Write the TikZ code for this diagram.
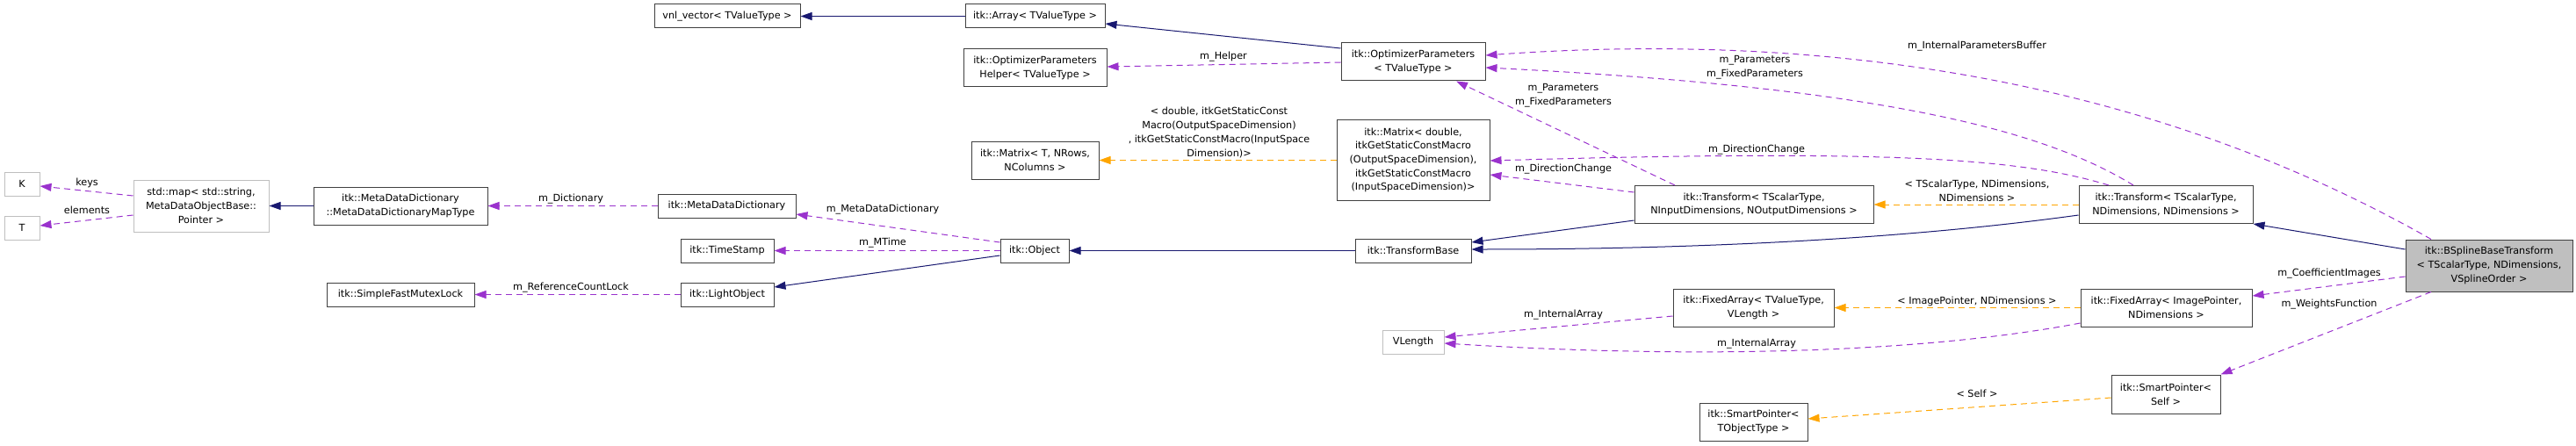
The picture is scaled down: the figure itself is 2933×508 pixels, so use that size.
\documentclass[tikz,border=0pt]{standalone}
\usepackage{fontspec}
\setmainfont{DejaVu Sans}
\usetikzlibrary{arrows.meta}
\definecolor{inhnavy}{HTML}{191970}
\definecolor{usepurple}{HTML}{9A32CD}
\definecolor{tplorange}{HTML}{FFA500}
\definecolor{boxgray}{HTML}{BFBFBF}
\begin{document}
\begin{tikzpicture}[x=1pt,y=-1pt,font=\fontsize{11.2}{15.7}\selectfont,
  cls/.style n args={2}{draw=black!75,line width=1pt,fill=white,inner sep=0pt,align=center,minimum width=#1pt,minimum height=#2pt},
  ext/.style n args={2}{cls={#1}{#2},draw=boxgray},
  inh/.style={inhnavy,line width=1pt,-{Triangle[length=13pt,width=9pt]}},
  use/.style={usepurple,line width=1pt,dash pattern=on 7pt off 5pt,-{Triangle[length=13pt,width=9pt]}},
  tpl/.style={tplorange,line width=1pt,dash pattern=on 7pt off 5pt,-{Triangle[length=13pt,width=9pt]}},
  lbl/.style={align=center,inner sep=0pt}]
  \useasboundingbox (0,0) rectangle (2933,508);
  \node[cls={166}{27}] (vnl) at (828,18.5) {vnl\_vector< TValueType >};
  \node[cls={159}{27}] (arr) at (1178.5,18.5) {itk::Array< TValueType >};
  \node[cls={163}{43}] (helper) at (1178.5,77.5) {itk::OptimizerParameters\\Helper< TValueType >};
  \node[cls={164}{43}] (optp) at (1609,70.5) {itk::OptimizerParameters\\< TValueType >};
  \node[cls={145}{43}] (matT) at (1178.5,182.5) {itk::Matrix< T, NRows,\\NColumns >};
  \node[cls={174}{91}] (matD) at (1609,182.5) {itk::Matrix< double,\\itkGetStaticConstMacro\\(OutputSpaceDimension),\\itkGetStaticConstMacro\\(InputSpaceDimension)>};
  \node[cls={272}{43}] (trIO) at (1997,233) {itk::Transform< TScalarType,\\NInputDimensions, NOutputDimensions >};
  \node[cls={198}{43}] (trND) at (2466,233) {itk::Transform< TScalarType,\\NDimensions, NDimensions >};
  \node[cls={190}{59},fill=boxgray] (bspl) at (2834,302.5) {itk::BSplineBaseTransform\\< TScalarType, NDimensions,\\VSplineOrder >};
  \node[cls={132}{27}] (tbase) at (1609,285.5) {itk::TransformBase};
  \node[cls={78}{27}] (obj) at (1178,285.5) {itk::Object};
  \node[cls={106}{27}] (tstamp) at (828,285.5) {itk::TimeStamp};
  \node[cls={106}{27}] (lobj) at (828,335.5) {itk::LightObject};
  \node[cls={168}{27}] (mutex) at (456,335.5) {itk::SimpleFastMutexLock};
  \node[cls={157}{27}] (mdd) at (827.5,234.5) {itk::MetaDataDictionary};
  \node[cls={198}{43}] (mapt) at (456,234.5) {itk::MetaDataDictionary\\::MetaDataDictionaryMapType};
  \node[ext={154}{59}] (stdmap) at (229,234.5) {std::map< std::string,\\MetaDataObjectBase::\\Pointer >};
  \node[ext={40}{27}] (kk) at (25,209.5) {K};
  \node[ext={40}{27}] (tt) at (25,259.5) {T};
  \node[ext={70}{27}] (vlen) at (1609,389.5) {VLength};
  \node[cls={183}{43}] (faTV) at (1996.5,350.5) {itk::FixedArray< TValueType,\\VLength >};
  \node[cls={195}{43}] (faIP) at (2466.5,350.5) {itk::FixedArray< ImagePointer,\\NDimensions >};
  \node[cls={124}{44}] (spSelf) at (2466,449) {itk::SmartPointer<\\Self >};
  \node[cls={123}{43}] (spT) at (1996.5,480.5) {itk::SmartPointer<\\TObjectType >};
  \draw[inh] (arr.west) -- (vnl.east);
  \draw[inh] (optp.west |- 0,55) -- (arr.east |- 0,27);
  \draw[inh] (mapt.west) -- (stdmap.east);
  \draw[inh] (obj.west |- 0,291) -- (lobj.east |- 0,327);
  \draw[inh] (tbase.west) -- (obj.east);
  \draw[inh] (trIO.west |- 0,251) -- (tbase.east |- 0,276);
  \draw[inh] (trND.west |- 0,245) .. controls (2150,275) and (1900,284) .. (tbase.east |- 0,284);
  \draw[inh] (bspl.west |- 0,284) -- (trND.south east);
  \draw[use] (stdmap.west |- 0,223) -- (kk.east |- 0,212);
  \draw[use] (stdmap.west |- 0,245) -- (tt.east |- 0,257);
  \draw[use] (mdd.west) -- (mapt.east);
  \draw[use] (obj.west |- 0,276) -- (mdd.east |- 0,244);
  \draw[use] (obj.west) -- (tstamp.east);
  \draw[use] (lobj.west) -- (mutex.east);
  \draw[use] (optp.west |- 0,71) -- (helper.east |- 0,76);
  \draw[use] (trIO.north -| 1907,0) -- (optp.south -| 1658,0);
  \draw[use] (trND.north -| 2429,0) .. controls (2330,150) and (2150,100) .. (optp.east |- 0,77);
  \draw[use] (bspl.north -| 2768,0) .. controls (2500,120) and (2150,30) .. (optp.east |- 0,63);
  \draw[use] (trIO.west |- 0,219) -- (matD.east |- 0,199);
  \draw[use] (trND.north -| 2401,0) .. controls (2300,180) and (2150,170) .. (matD.east |- 0,183);
  \draw[use] (bspl.west |- 0,315) -- (faIP.east |- 0,337);
  \draw[use] (bspl.south -| 2768,0) -- (spSelf.north east);
  \draw[use] (faTV.west |- 0,360) -- (vlen.east |- 0,384);
  \draw[use] (faIP.west |- 0,368) .. controls (2200,400) and (1950,410) .. (vlen.east |- 0,391);
  \draw[tpl] (matD.west) -- (matT.east);
  \draw[tpl] (trND.west) -- (trIO.east);
  \draw[tpl] (faIP.west) -- (faTV.east);
  \draw[tpl] (spSelf.west |- 0,453) -- (spT.east |- 0,477);
  \node[lbl] (lkeys) at (99,208) {keys};
  \node[lbl] (lelem) at (99,239) {elements};
  \node[lbl] (ldict) at (650,227) {m\_Dictionary};
  \node[lbl] (lrefc) at (650,328) {m\_ReferenceCountLock};
  \node[lbl] (lmtime) at (1005,277) {m\_MTime};
  \node[lbl] (lmdd) at (1005,239) {m\_MetaDataDictionary};
  \node[lbl] (lhelp) at (1393,65) {m\_Helper};
  \node[lbl] (lmat) at (1388,151) {< double, itkGetStaticConst\\Macro(OutputSpaceDimension)\\, itkGetStaticConstMacro(InputSpace\\Dimension)>};
  \node[lbl] (lpar1) at (1780,109) {m\_Parameters\\m\_FixedParameters};
  \node[lbl] (lpar2) at (1998,77) {m\_Parameters\\m\_FixedParameters};
  \node[lbl] (lbuf) at (2251,53) {m\_InternalParametersBuffer};
  \node[lbl] (ldir1) at (1780,193) {m\_DirectionChange};
  \node[lbl] (ldir2) at (2000,171) {m\_DirectionChange};
  \node[lbl] (ltr) at (2251,217) {< TScalarType, NDimensions,\\NDimensions >};
  \node[lbl] (lcoef) at (2652,312) {m\_CoefficientImages};
  \node[lbl] (lwf) at (2652,347) {m\_WeightsFunction};
  \node[lbl] (lfa) at (2251,343) {< ImagePointer, NDimensions >};
  \node[lbl] (lia1) at (1780,359) {m\_InternalArray};
  \node[lbl] (lia2) at (2000,392) {m\_InternalArray};
  \node[lbl] (lself) at (2251,448) {< Self >};
\end{tikzpicture}
\end{document}
